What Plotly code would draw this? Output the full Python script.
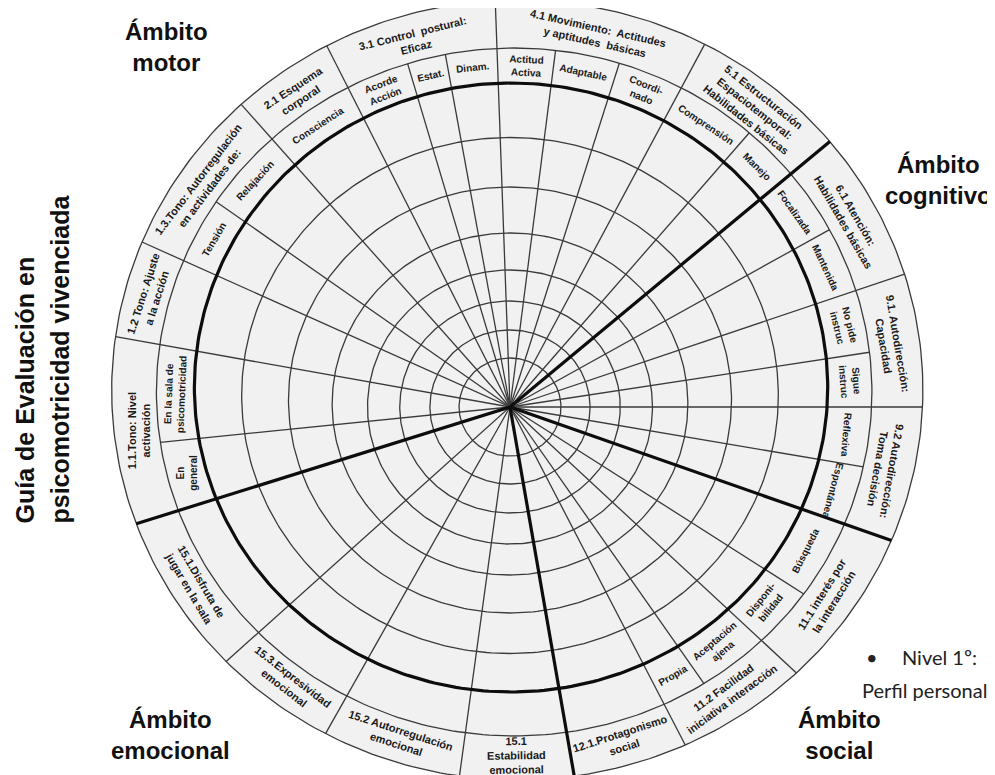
import numpy as np
import plotly.graph_objects as go

# ---------------- data ----------------
cat_labels = [
    "1.1.Tono: Nivel<br>activación",
    "1.2 Tono: Ajuste<br>a la acción",
    "1.3.Tono: Autorregulación<br>en actividades de:",
    "2.1 Esquema<br>corporal",
    "3.1 Control  postural:<br>Eficaz",
    "4.1 Movimiento:  Actitudes<br>y aptitudes  básicas",
    "5.1 Estructuración<br>Espaciotemporal:<br>Habilidades básicas",
    "6.1 Atención:<br>Habilidades básicas",
    "9.1. Autodirección:<br>Capacidad",
    "9.2 Autodirección:<br>Toma decisión",
    "11.1 interés por<br>la interacción",
    "11.2 Facilidad<br>iniciativa interacción",
    "12.1.Protagonismo<br>social",
    "15.1<br>Estabilidad<br>emocional",
    "15.2 Autorregulación<br>emocional",
    "15.3.Expresividad<br>emocional",
    "15.1.Disfruta de<br>jugar en la sala",
]
start_deg = -108
cat_end_deg = [-79.5, -65, -40.5, -26, -2, 27.3, 49.2, 70.7, 90, 110,
               134, 153.5, 170.5, 187.5, 208.5, 227, 252]

sub_labels = ["En<br>general", "En la sala de<br>psicomotricidad", "", "Tensión",
              "Relajación", "Consciencia", "Acorde<br>Acción", "Estat.", "Dinam.",
              "Actitud<br>Activa", "Adaptable", "Coordi-<br>nado", "Comprensión",
              "Manejo", "Focalizada", "Mantenida", "No pide<br>instruc",
              "Sigue<br>instruc", "Reflexiva", "Espontánea", "Búsqueda",
              "Disponi-<br>bilidad", "Aceptación<br>ajena", "Propia",
              "", "", "", "", ""]
sub_end_deg = [-96, -79.5, -65, -54, -40.5, -26, -16, -10, -2, 7, 17, 27.3,
               40, 49.2, 60, 70.7, 81, 90, 100, 110, 123.5, 134, 146, 153.5,
               170.5, 187.5, 208.5, 227, 252]

domain_end_deg = [49.2, 110, 170.5, 252]
domain_titles = ["Ámbito<br>motor", "Ámbito<br>cognitivo", "Ámbito<br>social", "Ámbito<br>emocional"]
side_title = ["Guía de Evaluación en", "psicomotricidad vivenciada"]
note_lines = ["•", "Nivel 1º:", "Perfil personal"]

# grid levels of the scoring scale (radius, vertical shift of each ring)
ring_levels = [49, 77, 106, 137, 171, 213, 258]
ring_shift = [0, 0, 0, 0, 3, 7, 11.5]

# ---------------- geometry / style ----------------
SX = 1.04                     # horizontal stretch of the drawing
PAGE_W, PAGE_H = 995, 775
BODY = 8                      # default page margin around the figure
W, H = PAGE_W - BODY, PAGE_H - BODY
CX, CY = 510, 407             # hub position in the page
THICK = (1, 19.5, 304.5)      # (cx, cy, r) of the thick ring
SUB = (4, 15, 344)            # ring that closes the item cells
OUTER = (7, 17, 390)          # outer rim
CAT_POS = 0.44                # radial position of category labels within outer band

NARROW = "Liberation Sans Narrow, Arial Narrow, Liberation Sans, Arial"
CAT_FONT = dict(family=NARROW, size=11, color="#1a1a1a", weight="bold")
SUB_FONT = dict(family=NARROW, size=10, color="#1a1a1a", weight="bold")


def ray_t(theta, circ):
    cx, cy, r = circ
    th = np.radians(theta)
    ux, uy = np.sin(th), np.cos(th)
    b = ux * cx + uy * cy
    return b + np.sqrt(b * b - (cx * cx + cy * cy) + r * r)


def pt(theta, t):
    th = np.radians(theta)
    return t * np.sin(th), t * np.cos(th)


def circle_xy(cx, cy, r):
    phi = np.radians(np.linspace(0, 360, 361))
    return list(cx + r * np.sin(phi)), list(cy + r * np.cos(phi))


def norm(a):
    return ((a + 180) % 360) - 180


def text_angle(theta):
    th = norm(theta)
    if -90 <= th <= 112:
        return th
    if -108 <= th < -90:
        return -90
    return th - 180 if th > 0 else th + 180


fig = go.Figure()

# disc background
ox, oy = circle_xy(*OUTER)
fig.add_trace(go.Scatter(x=ox, y=oy, mode="lines", fill="toself",
                         fillcolor="#f1f1f1", line=dict(color="#3a3a3a", width=1.3),
                         hoverinfo="skip", showlegend=False))

# thin rings
xs, ys = [], []
for r, s in zip(ring_levels, ring_shift):
    cx_, cy_ = circle_xy(0, s, r)
    xs += cx_ + [None]
    ys += cy_ + [None]
cx_, cy_ = circle_xy(*SUB)
xs += cx_ + [None]
ys += cy_ + [None]

# spokes
cat_set = {round(norm(a), 2) for a in [start_deg] + cat_end_deg}
dom_set = {round(norm(a), 2) for a in domain_end_deg}
for a in [start_deg] + sub_end_deg:
    key = round(norm(a), 2)
    if key in dom_set:
        continue
    t_end = ray_t(a, OUTER) if key in cat_set else ray_t(a, SUB)
    x1, y1 = pt(a, t_end)
    xs += [0, x1, None]
    ys += [0, y1, None]

fig.add_trace(go.Scatter(x=xs, y=ys, mode="lines",
                         line=dict(color="#3a3a3a", width=1.3),
                         hoverinfo="skip", showlegend=False))

# thick ring and domain separators
txs, tys = circle_xy(*THICK)
txs += [None]
tys += [None]
for a in domain_end_deg:
    x1, y1 = pt(a, ray_t(a, OUTER))
    txs += [0, x1, None]
    tys += [0, y1, None]
fig.add_trace(go.Scatter(x=txs, y=tys, mode="lines",
                         line=dict(color="#0d0d0d", width=3.2),
                         hoverinfo="skip", showlegend=False))

annotations = []

# category labels
prev = start_deg
for lab, end in zip(cat_labels, cat_end_deg):
    mid = (prev + end) / 2
    t_in, t_out = ray_t(mid, SUB), ray_t(mid, OUTER)
    t = t_in + CAT_POS * (t_out - t_in)
    x, y = pt(mid, t)
    annotations.append(dict(x=x, y=y, xref="x", yref="y", text=lab, showarrow=False,
                            textangle=text_angle(mid), font=CAT_FONT))
    prev = end

# item labels
prev = start_deg
for lab, end in zip(sub_labels, sub_end_deg):
    mid = (prev + end) / 2
    prev = end
    if not lab:
        continue
    t = (ray_t(mid, THICK) + ray_t(mid, SUB)) / 2
    x, y = pt(mid, t)
    annotations.append(dict(x=x, y=y, xref="x", yref="y", text=lab, showarrow=False,
                            textangle=text_angle(mid), font=SUB_FONT))


def px(xp, yp):
    return (xp - CX) / SX, CY - yp


TITLE_FONT = dict(family="Liberation Sans, Arial", size=24, color="#111111", weight="bold")
title_pos = [(166, 47), (938, 180), (839, 735), (170, 735)]
for txt, (xp, yp) in zip(domain_titles, title_pos):
    x, y = px(xp, yp)
    annotations.append(dict(x=x, y=y, xref="x", yref="y", text=txt, showarrow=False,
                            font=TITLE_FONT))

# side title (two lines, aligned at the bottom)
for txt, xp in zip(side_title, [24, 59]):
    x, y = px(xp, 526)
    annotations.append(dict(x=x, y=y, xref="x", yref="y", text=txt, showarrow=False,
                            textangle=-90, yanchor="bottom",
                            font=dict(family="Liberation Sans, Arial", size=25,
                                      color="#111111", weight="bold")))

NOTE_FONT = dict(family="Lato, Open Sans, sans-serif", size=20, color="#222222")
for txt, (xp, yp) in zip(note_lines, [(864, 657), (900, 657), (860, 690)]):
    x, y = px(xp, yp)
    annotations.append(dict(x=x, y=y, xref="x", yref="y", text=txt, showarrow=False,
                            xanchor="left", font=NOTE_FONT))

fig.update_layout(
    width=W, height=H,
    margin=dict(l=0, r=0, t=0, b=0),
    paper_bgcolor="white", plot_bgcolor="white",
    xaxis=dict(range=[(BODY - CX) / SX, (PAGE_W - CX) / SX], visible=False, fixedrange=True),
    yaxis=dict(range=[CY - PAGE_H, CY - BODY], visible=False, fixedrange=True),
    annotations=annotations,
    showlegend=False,
)

fig.write_html("out.html")
